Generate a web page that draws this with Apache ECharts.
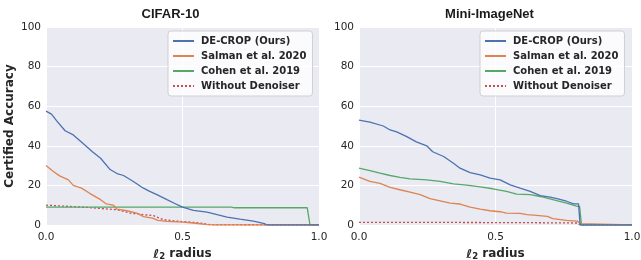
<!DOCTYPE html>
<html>
<head>
<meta charset="utf-8">
<script src="https://cdn.jsdelivr.net/npm/echarts@6/dist/echarts.min.js"></script>
<style>html,body{margin:0;padding:0;background:#fff;}#c{width:641px;height:260px;}</style>
</head>
<body>
<div id="c"></div>
<script>
// ---------- data (radius, certified accuracy %) ----------
const titles = ['CIFAR-10', 'Mini-ImageNet'];
const seriesNames = ['DE-CROP (Ours)', 'Salman et al. 2020', 'Cohen et al. 2019', 'Without Denoiser'];
const xTicks = [0, 0.5, 1.0];
const yTicks = [0, 20, 40, 60, 80, 100];

// CIFAR-10
const cifarDecropX = [0, 0.02, 0.04, 0.07, 0.1, 0.137, 0.17, 0.2, 0.235, 0.26, 0.284, 0.32, 0.357, 0.38, 0.406, 0.443, 0.47, 0.5, 0.54, 0.59, 0.627, 0.663, 0.71, 0.76, 0.8, 0.81, 1.0];
const cifarDecropY = [57.5, 56, 52.5, 47.6, 45.5, 41, 37, 33.7, 28, 26, 25, 22, 18.6, 17, 15.3, 12.8, 11, 9, 7.4, 6.5, 5.2, 4, 3, 2, 0.7, 0, 0];
const cifarSalmanX = [0, 0.027, 0.05, 0.082, 0.1, 0.13, 0.16, 0.2, 0.22, 0.247, 0.26, 0.296, 0.333, 0.357, 0.39, 0.41, 0.443, 0.5, 0.54, 0.59, 0.62, 1.0];
const cifarSalmanY = [30, 27, 24.8, 22.8, 20, 18.6, 16, 12.8, 10.7, 10, 8, 7.2, 6, 4.2, 3.5, 2.3, 1.8, 1.5, 1, 0.2, 0, 0];
const cifarCohenX = [0, 0.3, 0.68, 0.69, 0.957, 0.967, 1.0];
const cifarCohenY = [9, 9, 9, 8.7, 8.7, 0, 0];
const cifarNoDenX = [0, 0.149, 0.26, 0.308, 0.394, 0.43, 0.492, 0.553, 0.6, 1.0];
const cifarNoDenY = [10, 8.9, 7.7, 6, 4.7, 2.7, 1.8, 1.2, 0.2, 0];

// Mini-ImageNet
const miniDecropX = [0, 0.04, 0.089, 0.114, 0.138, 0.175, 0.21, 0.248, 0.27, 0.31, 0.346, 0.37, 0.407, 0.444, 0.48, 0.517, 0.554, 0.59, 0.627, 0.664, 0.7, 0.725, 0.76, 0.786, 0.804, 0.81, 1.0];
const miniDecropY = [53, 52, 50, 48, 47, 44.6, 42, 40, 37, 34.6, 31.2, 28.7, 26.5, 25.3, 23.7, 22.8, 20.3, 18.6, 17, 14.8, 14.1, 13.3, 12, 10.7, 10.7, 0, 0];
const miniSalmanX = [0, 0.04, 0.077, 0.114, 0.15, 0.187, 0.224, 0.26, 0.297, 0.334, 0.37, 0.407, 0.444, 0.48, 0.517, 0.54, 0.59, 0.615, 0.65, 0.69, 0.71, 0.76, 0.8, 0.81, 0.815, 1.0];
const miniSalmanY = [24.2, 22, 21, 19, 17.8, 16.6, 15.3, 13.3, 12.2, 11, 10.6, 9, 8, 7.2, 6.7, 6, 5.9, 5.2, 4.9, 4.4, 3.2, 2.3, 2, 0.7, 0, 0];
const miniCohenX = [0, 0.04, 0.077, 0.114, 0.15, 0.187, 0.248, 0.297, 0.346, 0.395, 0.444, 0.49, 0.54, 0.578, 0.627, 0.664, 0.71, 0.76, 0.8, 0.808, 0.815, 1.0];
const miniCohenY = [28.7, 27.5, 26.2, 25, 24, 23.3, 22.8, 22, 20.8, 20.1, 19.3, 18.3, 17, 15.6, 15.3, 14.4, 12.8, 11, 9.4, 9.4, 0, 0];
const miniNoDenX = [0, 0.3, 0.6, 0.8, 0.81, 1.0];
const miniNoDenY = [1.3, 1.3, 1.2, 1.0, 0, 0];

// ---------- build ----------
const colors = ['#4C72B0', '#DD8452', '#55A868', '#C44E52'];
const pairs = (xs, ys) => xs.map((x, i) => [x, ys[i]]);
const panels = [
  [[cifarDecropX, cifarDecropY], [cifarSalmanX, cifarSalmanY], [cifarCohenX, cifarCohenY], [cifarNoDenX, cifarNoDenY]],
  [[miniDecropX, miniDecropY], [miniSalmanX, miniSalmanY], [miniCohenX, miniCohenY], [miniNoDenX, miniNoDenY]]
];
const gridLefts = [46, 359];
const titleCenters = [165.5, 484.5];
const plotW = 273;
const font = 'DejaVu Sans';
const tickColor = '#262626';

const option = {
  animation: false,
  textStyle: { fontFamily: font },
  title: titles.map((t, i) => ({
    text: t, left: titleCenters[i], top: 3, textAlign: 'center',
    textStyle: { fontFamily: 'Liberation Sans', fontSize: 13, fontWeight: 'bold', color: '#1a1a1a' }
  })),
  grid: gridLefts.map(l => ({
    left: l, top: 27, width: plotW, height: 198, show: true,
    backgroundColor: '#EAEAF2', borderWidth: 0, containLabel: false,
    outerBoundsMode: 'none'
  })),
  legend: gridLefts.map((l, i) => ({
    data: seriesNames, orient: 'vertical',
    left: i === 0 ? 168 : 480, top: 31,
    padding: [5, 6, 5, 4], itemGap: 5, itemWidth: 21, itemHeight: 10,
    backgroundColor: 'rgba(255,255,255,0.8)', borderColor: '#d0d0d0', borderWidth: 1, borderRadius: 3,
    selectedMode: false,
    itemStyle: { opacity: 0 },
    textStyle: { fontFamily: font, fontSize: 10, fontWeight: 'bold', color: '#262626', padding: [0, 0, 0, 2] }
  })),
  xAxis: gridLefts.map((l, i) => ({
    type: 'value', gridIndex: i, min: 0, max: 1, interval: 0.5,
    name: '{l|ℓ}{s|2}{r| radius}', nameLocation: 'middle', nameGap: 19,
    nameTextStyle: {
      fontFamily: font, fontSize: 12, fontWeight: 'bold', color: '#262626',
      rich: {
        l: { fontFamily: font, fontSize: 12.5, fontStyle: 'italic', fontWeight: 'bold', color: '#262626', verticalAlign: 'bottom' },
        s: { fontFamily: font, fontSize: 8.5, fontWeight: 'bold', color: '#262626', padding: [5, 0, 0, 0] },
        r: { fontFamily: font, fontSize: 12, fontWeight: 'bold', color: '#262626' }
      }
    },
    axisLine: { show: false }, axisTick: { show: false },
    axisLabel: { fontFamily: font, fontSize: 10.5, color: tickColor, margin: 7,
      formatter: v => v.toFixed(1), showMinLabel: true, showMaxLabel: true },
    splitLine: { show: true, lineStyle: { color: '#ffffff', width: 1 } }
  })),
  yAxis: gridLefts.map((l, i) => ({
    type: 'value', gridIndex: i, min: 0, max: 100, interval: 20,
    name: i === 0 ? 'Certified Accuracy' : '', nameLocation: 'middle', nameGap: 30,
    nameTextStyle: { fontFamily: font, fontSize: 12, fontWeight: 'bold', color: '#262626' },
    axisLine: { show: false }, axisTick: { show: false },
    axisLabel: { fontFamily: font, fontSize: 10.5, color: tickColor, margin: 5 },
    splitLine: { show: true, lineStyle: { color: '#ffffff', width: 1 } }
  })),
  series: []
};
panels.forEach((panel, p) => {
  panel.forEach((xy, k) => {
    option.series.push({
      name: seriesNames[k], type: 'line', xAxisIndex: p, yAxisIndex: p,
      data: pairs(xy[0], xy[1]), symbol: 'none', showSymbol: false,
      color: colors[k],
      lineStyle: { color: colors[k], width: 1.3, type: k === 3 ? [2, 2] : 'solid' },
      z: 10 - k
    });
  });
});
const chart = echarts.init(document.getElementById('c'), null, { renderer: 'canvas' });
chart.setOption(option);
</script>
</body>
</html>
